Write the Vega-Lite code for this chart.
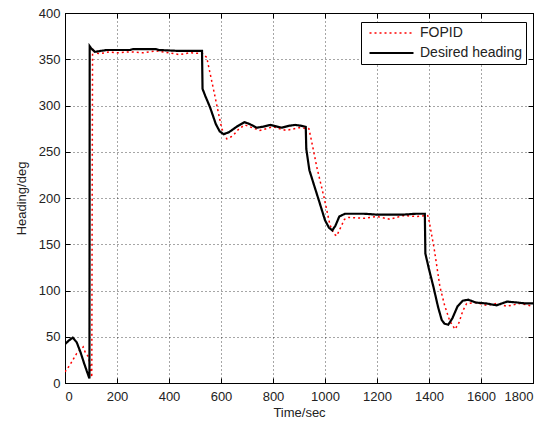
{
  "$schema": "https://vega.github.io/schema/vega-lite/v6.json",
  "width": 468,
  "height": 370,
  "autosize": "none",
  "padding": {"left": 65, "top": 13, "right": 23, "bottom": 40},
  "background": "white",
  "data": {
    "values": [
      {"t": 0, "v": 12, "s": "FOPID"},
      {"t": 19, "v": 19.5, "s": "FOPID"},
      {"t": 45, "v": 32, "s": "FOPID"},
      {"t": 70, "v": 39, "s": "FOPID"},
      {"t": 78, "v": 33, "s": "FOPID"},
      {"t": 90, "v": 28.5, "s": "FOPID"},
      {"t": 99, "v": 15, "s": "FOPID"},
      {"t": 103, "v": 6, "s": "FOPID"},
      {"t": 106, "v": 362, "s": "FOPID"},
      {"t": 115, "v": 357, "s": "FOPID"},
      {"t": 135, "v": 356, "s": "FOPID"},
      {"t": 170, "v": 358, "s": "FOPID"},
      {"t": 200, "v": 357, "s": "FOPID"},
      {"t": 250, "v": 358, "s": "FOPID"},
      {"t": 300, "v": 357, "s": "FOPID"},
      {"t": 350, "v": 359, "s": "FOPID"},
      {"t": 400, "v": 357, "s": "FOPID"},
      {"t": 440, "v": 355, "s": "FOPID"},
      {"t": 480, "v": 357, "s": "FOPID"},
      {"t": 530, "v": 356, "s": "FOPID"},
      {"t": 545, "v": 352, "s": "FOPID"},
      {"t": 570, "v": 319, "s": "FOPID"},
      {"t": 590, "v": 292, "s": "FOPID"},
      {"t": 603, "v": 275, "s": "FOPID"},
      {"t": 622, "v": 264, "s": "FOPID"},
      {"t": 645, "v": 267, "s": "FOPID"},
      {"t": 670, "v": 275, "s": "FOPID"},
      {"t": 692, "v": 279, "s": "FOPID"},
      {"t": 720, "v": 276, "s": "FOPID"},
      {"t": 750, "v": 273, "s": "FOPID"},
      {"t": 800, "v": 277, "s": "FOPID"},
      {"t": 850, "v": 273, "s": "FOPID"},
      {"t": 900, "v": 276, "s": "FOPID"},
      {"t": 938, "v": 275, "s": "FOPID"},
      {"t": 948, "v": 262, "s": "FOPID"},
      {"t": 968, "v": 234, "s": "FOPID"},
      {"t": 996, "v": 201, "s": "FOPID"},
      {"t": 1019, "v": 171, "s": "FOPID"},
      {"t": 1035, "v": 161, "s": "FOPID"},
      {"t": 1045, "v": 159, "s": "FOPID"},
      {"t": 1060, "v": 168, "s": "FOPID"},
      {"t": 1075, "v": 177, "s": "FOPID"},
      {"t": 1090, "v": 179, "s": "FOPID"},
      {"t": 1150, "v": 178, "s": "FOPID"},
      {"t": 1200, "v": 180, "s": "FOPID"},
      {"t": 1250, "v": 177, "s": "FOPID"},
      {"t": 1300, "v": 181, "s": "FOPID"},
      {"t": 1350, "v": 180, "s": "FOPID"},
      {"t": 1395, "v": 181, "s": "FOPID"},
      {"t": 1400, "v": 176, "s": "FOPID"},
      {"t": 1420, "v": 145, "s": "FOPID"},
      {"t": 1442, "v": 104, "s": "FOPID"},
      {"t": 1460, "v": 84, "s": "FOPID"},
      {"t": 1480, "v": 67, "s": "FOPID"},
      {"t": 1500, "v": 58, "s": "FOPID"},
      {"t": 1515, "v": 65, "s": "FOPID"},
      {"t": 1530, "v": 78, "s": "FOPID"},
      {"t": 1545, "v": 86, "s": "FOPID"},
      {"t": 1580, "v": 87, "s": "FOPID"},
      {"t": 1620, "v": 84, "s": "FOPID"},
      {"t": 1660, "v": 86, "s": "FOPID"},
      {"t": 1700, "v": 83, "s": "FOPID"},
      {"t": 1750, "v": 86, "s": "FOPID"},
      {"t": 1800, "v": 83, "s": "FOPID"},
      {"t": 0, "v": 42, "s": "Desired heading"},
      {"t": 15, "v": 46, "s": "Desired heading"},
      {"t": 30, "v": 49, "s": "Desired heading"},
      {"t": 45, "v": 44, "s": "Desired heading"},
      {"t": 60, "v": 33, "s": "Desired heading"},
      {"t": 75, "v": 20, "s": "Desired heading"},
      {"t": 90, "v": 8, "s": "Desired heading"},
      {"t": 94, "v": 5, "s": "Desired heading"},
      {"t": 95, "v": 364, "s": "Desired heading"},
      {"t": 100, "v": 362, "s": "Desired heading"},
      {"t": 115, "v": 358, "s": "Desired heading"},
      {"t": 160, "v": 360, "s": "Desired heading"},
      {"t": 250, "v": 360, "s": "Desired heading"},
      {"t": 262, "v": 361, "s": "Desired heading"},
      {"t": 350, "v": 361, "s": "Desired heading"},
      {"t": 360, "v": 360, "s": "Desired heading"},
      {"t": 440, "v": 359, "s": "Desired heading"},
      {"t": 527, "v": 359, "s": "Desired heading"},
      {"t": 529, "v": 318, "s": "Desired heading"},
      {"t": 540, "v": 310, "s": "Desired heading"},
      {"t": 558, "v": 298, "s": "Desired heading"},
      {"t": 580, "v": 280, "s": "Desired heading"},
      {"t": 595, "v": 272, "s": "Desired heading"},
      {"t": 610, "v": 269, "s": "Desired heading"},
      {"t": 630, "v": 271, "s": "Desired heading"},
      {"t": 660, "v": 277, "s": "Desired heading"},
      {"t": 690, "v": 282, "s": "Desired heading"},
      {"t": 710, "v": 280, "s": "Desired heading"},
      {"t": 737, "v": 276, "s": "Desired heading"},
      {"t": 760, "v": 277, "s": "Desired heading"},
      {"t": 790, "v": 279, "s": "Desired heading"},
      {"t": 833, "v": 276, "s": "Desired heading"},
      {"t": 860, "v": 278, "s": "Desired heading"},
      {"t": 885, "v": 279, "s": "Desired heading"},
      {"t": 910, "v": 278, "s": "Desired heading"},
      {"t": 926, "v": 277, "s": "Desired heading"},
      {"t": 928, "v": 253, "s": "Desired heading"},
      {"t": 940, "v": 230, "s": "Desired heading"},
      {"t": 960, "v": 212, "s": "Desired heading"},
      {"t": 978, "v": 196, "s": "Desired heading"},
      {"t": 1000, "v": 176, "s": "Desired heading"},
      {"t": 1015, "v": 168, "s": "Desired heading"},
      {"t": 1028, "v": 165, "s": "Desired heading"},
      {"t": 1040, "v": 170, "s": "Desired heading"},
      {"t": 1055, "v": 180, "s": "Desired heading"},
      {"t": 1077, "v": 183, "s": "Desired heading"},
      {"t": 1150, "v": 183, "s": "Desired heading"},
      {"t": 1200, "v": 182, "s": "Desired heading"},
      {"t": 1300, "v": 182, "s": "Desired heading"},
      {"t": 1350, "v": 183, "s": "Desired heading"},
      {"t": 1384, "v": 183, "s": "Desired heading"},
      {"t": 1386, "v": 140, "s": "Desired heading"},
      {"t": 1400, "v": 123, "s": "Desired heading"},
      {"t": 1417, "v": 104, "s": "Desired heading"},
      {"t": 1435, "v": 82, "s": "Desired heading"},
      {"t": 1449, "v": 68, "s": "Desired heading"},
      {"t": 1460, "v": 64, "s": "Desired heading"},
      {"t": 1474, "v": 63, "s": "Desired heading"},
      {"t": 1490, "v": 70, "s": "Desired heading"},
      {"t": 1510, "v": 83, "s": "Desired heading"},
      {"t": 1530, "v": 89, "s": "Desired heading"},
      {"t": 1551, "v": 90, "s": "Desired heading"},
      {"t": 1580, "v": 87, "s": "Desired heading"},
      {"t": 1620, "v": 86, "s": "Desired heading"},
      {"t": 1660, "v": 84, "s": "Desired heading"},
      {"t": 1700, "v": 88, "s": "Desired heading"},
      {"t": 1740, "v": 87, "s": "Desired heading"},
      {"t": 1770, "v": 86, "s": "Desired heading"},
      {"t": 1800, "v": 86, "s": "Desired heading"}
    ]
  },
  "encoding": {
    "x": {
      "field": "t", "type": "quantitative",
      "scale": {"domain": [0, 1800], "nice": false, "zero": false}
    },
    "y": {
      "field": "v", "type": "quantitative",
      "scale": {"domain": [0, 400], "nice": false}
    }
  },
  "layer": [
    {
      "mark": {"type": "line", "interpolate": "linear", "clip": true},
      "encoding": {
        "x": {
          "field": "t", "type": "quantitative",
          "axis": {"orient": "bottom", "values": [0, 200, 400, 600, 800, 1000, 1200, 1400, 1600, 1800], "format": "d", "title": "Time/sec", "labelPadding": 12, "titlePadding": 3}
        },
        "y": {
          "field": "v", "type": "quantitative",
          "axis": {"orient": "left", "values": [0, 50, 100, 150, 200, 250, 300, 350, 400], "format": "d", "title": "Heading/deg", "labelPadding": 10, "titlePadding": 10}
        },
        "color": {
          "field": "s", "type": "nominal",
          "scale": {"domain": ["FOPID", "Desired heading"], "range": ["#ff0000", "#000000"]},
          "legend": {
            "title": null, "orient": "none", "legendX": 296, "legendY": 9,
            "fillColor": "white", "strokeColor": "black", "padding": 4,
            "symbolType": "M-1,0H7", "symbolSize": 121, "symbolStrokeWidth": 2,
            "labelFontSize": 14, "labelFont": "Liberation Sans", "labelColor": "#222",
            "labelOffset": 38, "rowPadding": 6, "symbolOffset": 3
          }
        },
        "strokeDash": {
          "field": "s", "type": "nominal",
          "scale": {"domain": ["FOPID", "Desired heading"], "range": [[2, 3], [1, 0]]},
          "legend": null
        },
        "strokeWidth": {
          "field": "s", "type": "nominal",
          "scale": {"domain": ["FOPID", "Desired heading"], "range": [1.5, 2.2]},
          "legend": null
        }
      }
    },
    {
      "mark": {"type": "line", "opacity": 0},
      "encoding": {
        "x": {
          "field": "t", "type": "quantitative",
          "axis": {"orient": "top", "values": [0, 200, 400, 600, 800, 1000, 1200, 1400, 1600, 1800], "labels": false, "grid": false, "title": null}
        },
        "y": {
          "field": "v", "type": "quantitative",
          "axis": {"orient": "right", "values": [0, 50, 100, 150, 200, 250, 300, 350, 400], "labels": false, "grid": false, "title": null}
        },
        "detail": {"field": "s"}
      }
    }
  ],
  "resolve": {"axis": {"x": "independent", "y": "independent"}},
  "config": {
    "view": {"stroke": "black", "strokeWidth": 1},
    "axis": {
      "domainColor": "black",
      "grid": true, "gridColor": "#000", "gridDash": [1, 3], "gridOpacity": 0.7,
      "tickColor": "black", "tickSize": -5,
      "labelFont": "Liberation Sans", "labelFontSize": 13, "labelColor": "#222",
      "titleFont": "Liberation Sans", "titleFontSize": 13, "titleFontWeight": "normal", "titleColor": "#222"
    }
  }
}
